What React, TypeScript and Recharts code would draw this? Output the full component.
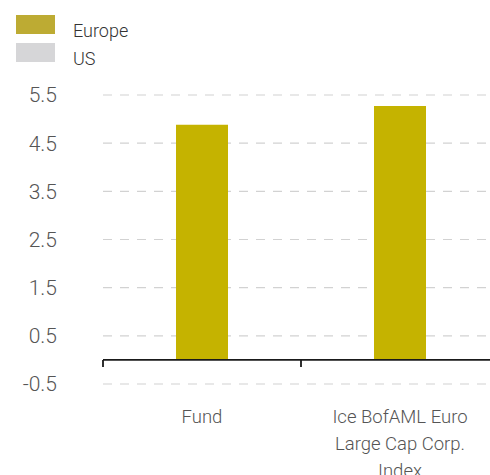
import React from 'react';
import { BarChart, Bar, XAxis, YAxis, CartesianGrid, Legend, ReferenceLine, ReferenceArea, Text } from 'recharts';

const categories = ['Fund', 'Ice BofAML Euro Large Cap Corp. Index'];
const europeValues = [4.88, 5.27];
const usValues: (number | null)[] = [null, null];
const yTicks = [-0.5, 0.5, 1.5, 2.5, 3.5, 4.5, 5.5];
const seriesNames = ['Europe', 'US'];

const data = categories.map((c, i) => ({ name: c, Europe: europeValues[i], US: usValues[i] }));

const FONT = 'Roboto, "Liberation Sans", Arial, sans-serif';
const BAR_COLORS: Record<string, string> = { Europe: '#C5B300', US: '#D6D6D8' };
const SWATCH_COLORS: Record<string, string> = { Europe: '#BDAB33', US: '#D6D6D8' };

const LegendContent = (props: any) => {
  const payload = props.payload || [];
  return (
    <div style={{ position: 'relative', height: 70, width: 200, fontFamily: FONT, fontWeight: 300, fontSize: 18, color: '#333' }}>
      {payload.map((p: any, i: number) => (
        <React.Fragment key={p.value}>
          <div style={{ position: 'absolute', left: 16, top: 15 + i * 28, width: 39, height: 19, background: SWATCH_COLORS[p.value] || p.color }} />
          <div style={{ position: 'absolute', left: 73, top: 21.5 + i * 28, lineHeight: '18px', whiteSpace: 'nowrap' }}>{p.value}</div>
        </React.Fragment>
      ))}
    </div>
  );
};

const XTick = (props: any) => {
  const { x, y, payload } = props;
  return (
    <Text
      x={x}
      y={y}
      width={150}
      textAnchor="middle"
      verticalAnchor="start"
      lineHeight={27}
      fill="#555"
      style={{ fontFamily: FONT, fontSize: 18.5, fontWeight: 300 }}
    >
      {payload.value}
    </Text>
  );
};

const BoundaryTick = (props: any) => {
  const { x, y } = props;
  return <path d={`M${x},${y} V${y + 7}`} stroke="#1a1a1a" strokeWidth={1.8} fill="none" />;
};

export default function App() {
  return (
    <div>
      <style>{`body{margin:0}`}</style>
      <BarChart
        width={490}
        height={475}
        data={data}
        margin={{ top: 25, right: -9, left: 0, bottom: 1 }}
      >
        <CartesianGrid vertical={false} stroke="#d2d2d2" strokeDasharray="9 8" strokeWidth={1.2} />
        <XAxis
          dataKey="name"
          axisLine={false}
          tickLine={false}
          tickSize={0}
          tickMargin={26}
          height={90}
          interval={0}
          tick={<XTick />}
        />
        <YAxis
          type="number"
          domain={[-0.5, 5.5]}
          ticks={yTicks}
          width={103}
          axisLine={false}
          tickLine={false}
          tickSize={0}
          tickMargin={46}
          interval={0}
          tick={{ fill: '#555', fontSize: 21, fontFamily: FONT, fontWeight: 300 }}
        />
        <Legend
          verticalAlign="top"
          align="left"
          layout="horizontal"
          wrapperStyle={{ top: 0, left: 0, width: 200 }}
          content={<LegendContent />}
        />
        {seriesNames.map((s) => (
          <Bar key={s} dataKey={s} stackId="a" fill={BAR_COLORS[s]} barSize={52} isAnimationActive={false} />
        ))}
        <ReferenceLine y={0} stroke="#1a1a1a" strokeWidth={1.6} />
        {categories.map((c) => (
          <ReferenceArea key={c} x1={c} x2={c} y1={0} y2={0} shape={<BoundaryTick />} ifOverflow="visible" />
        ))}
      </BarChart>
    </div>
  );
}
